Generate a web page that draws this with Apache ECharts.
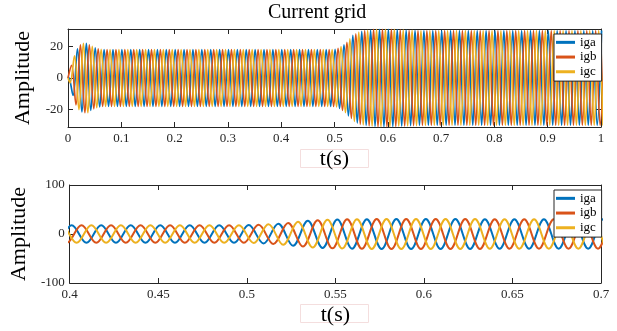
<!DOCTYPE html>
<html><head><meta charset="utf-8">
<script src="https://cdn.jsdelivr.net/npm/echarts@6/dist/echarts.min.js"></script>
<style>html,body{margin:0;padding:0;background:#fff}#c{width:617px;height:331px}</style>
</head><body><div id="c"></div>
<script>
// ---------------- data ----------------
const seriesNames = ['iga', 'igb', 'igc'];
const chartTitle = 'Current grid';
const xName = 't(s)';
const yName = 'Amplitude';

const topXTicks = [0, 0.1, 0.2, 0.3, 0.4, 0.5, 0.6, 0.7, 0.8, 0.9, 1];
const topYTicks = [-20, 0, 20];
const bottomXTicks = [0.4, 0.45, 0.5, 0.55, 0.6, 0.65, 0.7];
const bottomYTicks = [-100, 0, 100];

// 60 Hz grid current: successive extrema (peak / trough) every half period
const halfPeriod = 1 / 120;           // s
const igaFirstExtremum = 0.0011;      // s
const igbFirstExtremum = 0.00666;     // s
const igcFirstExtremum = 0.00388;     // s

const igaExtrema = [
  0.5,-11,18.5,-21.5,22,-20.5,19,-18.3,
  18,-18,18,-18,18,-18,18,-18,18,-18,
  18,-18,18,-18,18,-18,18,-18,18,-18,
  18,-18,18,-18,18,-18,18,-18,18,-18,
  18,-18,18,-18,18,-18,18,-18,18,-18,
  18,-18,18,-18,18,-18,18,-18,18,-18,
  18,-18,
  18.2,-19.3,21,-24,27,-28.5,29.5,-30,30.3,-30.6,30.8,-30.8,30.8,-30.7,30.6,-30.5,
  30.3,-30.2,30.1,
  -30,30,-30,30,-30,30,-30,30,-30,30,
  -30,30,-30,30,-30,30,-30,30,-30,30,
  -30,30,-30,30,-30,30,-30,30,-30,30,
  -30,30,-30,30,-30,30,-30,30,-30,30,
  -30,30
];
const igbExtrema = [
  8,-17,21,-22,21,-19.5,18.5,-18,
  18,-18,18,-18,18,-18,18,-18,18,-18,
  18,-18,18,-18,18,-18,18,-18,18,-18,
  18,-18,18,-18,18,-18,18,-18,18,-18,
  18,-18,18,-18,18,-18,18,-18,18,-18,
  18,-18,18,-18,18,-18,18,-18,18,-18,
  18,-18,
  18.8,-20.5,22.5,-25.5,28,-29.3,30,-30.3,30.7,-30.8,30.8,-30.8,30.7,-30.6,30.5,-30.4,
  30.2,-30.1,30,
  -30,30,-30,30,-30,30,-30,30,-30,30,
  -30,30,-30,30,-30,30,-30,30,-30,30,
  -30,30,-30,30,-30,30,-30,30,-30,30,
  -30,30,-30,30,-30,30,-30,30,-30,30,
  -30,30
];
const igcExtrema = [
  -3,14,-20,22,-22,20,-18.8,18.2,
  -18,18,-18,18,-18,18,-18,18,-18,18,
  -18,18,-18,18,-18,18,-18,18,-18,18,
  -18,18,-18,18,-18,18,-18,18,-18,18,
  -18,18,-18,18,-18,18,-18,18,-18,18,
  -18,18,-18,18,-18,18,-18,18,-18,18,
  -18,18,
  -18.3,19.8,-22,24.8,-27.5,29,-29.7,30.1,-30.5,30.7,-30.8,30.8,-30.8,30.7,-30.5,30.4,
  -30.3,30.2,-30.1,
  30,-30,30,-30,30,-30,30,-30,30,-30,
  30,-30,30,-30,30,-30,30,-30,30,-30,
  30,-30,30,-30,30,-30,30,-30,30,-30,
  30,-30,30,-30,30,-30,30,-30,30,-30,
  30,-30
];

// ---------------- build ----------------
function toPoints(t0, extrema) {
  const pts = [[0, 0]];
  extrema.forEach((v, k) => pts.push([t0 + k * halfPeriod, v]));
  return pts;
}
const seriesData = [
  toPoints(igaFirstExtremum, igaExtrema),
  toPoints(igbFirstExtremum, igbExtrema),
  toPoints(igcFirstExtremum, igcExtrema)
];
const colors = ['#0072BD', '#D95319', '#EDB120'];
const FONT = 'Liberation Serif';
const AX = '#262626';

function xAx(grid, min, max, ticks, pos, showLabel, withName) {
  return {
    type: 'value', gridIndex: grid, min: min, max: max, position: pos,
    axisLine: { show: true, onZero: false, lineStyle: { color: AX, width: 1 } },
    axisTick: { show: true, inside: true, length: 5, customValues: ticks, lineStyle: { color: AX } },
    axisLabel: { show: showLabel, customValues: ticks, margin: 5, fontFamily: FONT, fontSize: 13, color: AX },
    splitLine: { show: false },
    name: withName ? xName : '', nameLocation: 'middle', nameGap: 21,
    nameTextStyle: { fontFamily: FONT, fontSize: 22, color: '#000' }
  };
}
function yAx(grid, min, max, ticks, pos, showLabel, withName) {
  return {
    type: 'value', gridIndex: grid, min: min, max: max, position: pos,
    axisLine: { show: true, onZero: false, lineStyle: { color: AX, width: 1 } },
    axisTick: { show: true, inside: true, length: 5, customValues: ticks, lineStyle: { color: AX } },
    axisLabel: { show: showLabel, customValues: ticks, margin: 5, fontFamily: FONT, fontSize: 13, color: AX },
    splitLine: { show: false },
    name: withName ? yName : '', nameLocation: 'middle', nameGap: 34, nameRotate: 90,
    nameTextStyle: { fontFamily: FONT, fontSize: 22, color: '#000' }
  };
}

const series = [];
[0, 1].forEach(g => {
  seriesNames.forEach((n, i) => {
    series.push({
      name: n, type: 'line', xAxisIndex: g * 2, yAxisIndex: g * 2,
      data: seriesData[i], smooth: 0.36, showSymbol: false, symbol: 'none',
      clip: true, animation: false,
      lineStyle: { color: colors[i], width: g === 0 ? 1.7 : 2 },
      itemStyle: { color: colors[i] },
      emphasis: { disabled: true }
    });
  });
});

const legendBase = {
  data: seriesNames, orient: 'vertical', left: 554,
  icon: 'rect', itemWidth: 19, itemHeight: 3, itemGap: 0, itemTextGap: 3,
  padding: [1, 5, 2, 2], backgroundColor: '#fff', borderColor: AX, borderWidth: 1,
  textStyle: { fontFamily: FONT, fontSize: 13, color: '#000', lineHeight: 14.7 },
  selectedMode: false
};

const chart = echarts.init(document.getElementById('c'), null, { renderer: 'canvas' });
chart.setOption({
  animation: false,
  backgroundColor: '#fff',
  title: { text: chartTitle, left: 268, top: 3, padding: 0,
    textStyle: { fontFamily: FONT, fontSize: 20, fontWeight: 'normal', color: '#000' } },
  grid: [
    { left: 68, top: 29, width: 533, height: 98, show: false },
    { left: 68, top: 185, width: 533, height: 98, show: false }
  ],
  xAxis: [
    xAx(0, 0, 1, topXTicks, 'bottom', true, true),
    xAx(0, 0, 1, topXTicks, 'top', false, false),
    xAx(1, 0.4, 0.7, bottomXTicks, 'bottom', true, true),
    xAx(1, 0.4, 0.7, bottomXTicks, 'top', false, false)
  ],
  yAxis: [
    yAx(0, -31, 31, topYTicks, 'left', true, true),
    yAx(0, -31, 31, topYTicks, 'right', false, false),
    yAx(1, -100, 100, bottomYTicks, 'left', true, true),
    yAx(1, -100, 100, bottomYTicks, 'right', false, false)
  ],
  legend: [
    Object.assign({}, legendBase, { top: 34 }),
    Object.assign({}, legendBase, { top: 190 })
  ],
  graphic: [
    { type: 'rect', shape: { x: 300.5, y: 149.5, width: 68, height: 18 }, style: { fill: 'none', stroke: '#f4dede', lineWidth: 1 }, silent: true, z: 0 },
    { type: 'rect', shape: { x: 300.5, y: 304.5, width: 68, height: 18 }, style: { fill: 'none', stroke: '#f4dede', lineWidth: 1 }, silent: true, z: 0 }
  ],
  series: series
});
</script></body></html>
